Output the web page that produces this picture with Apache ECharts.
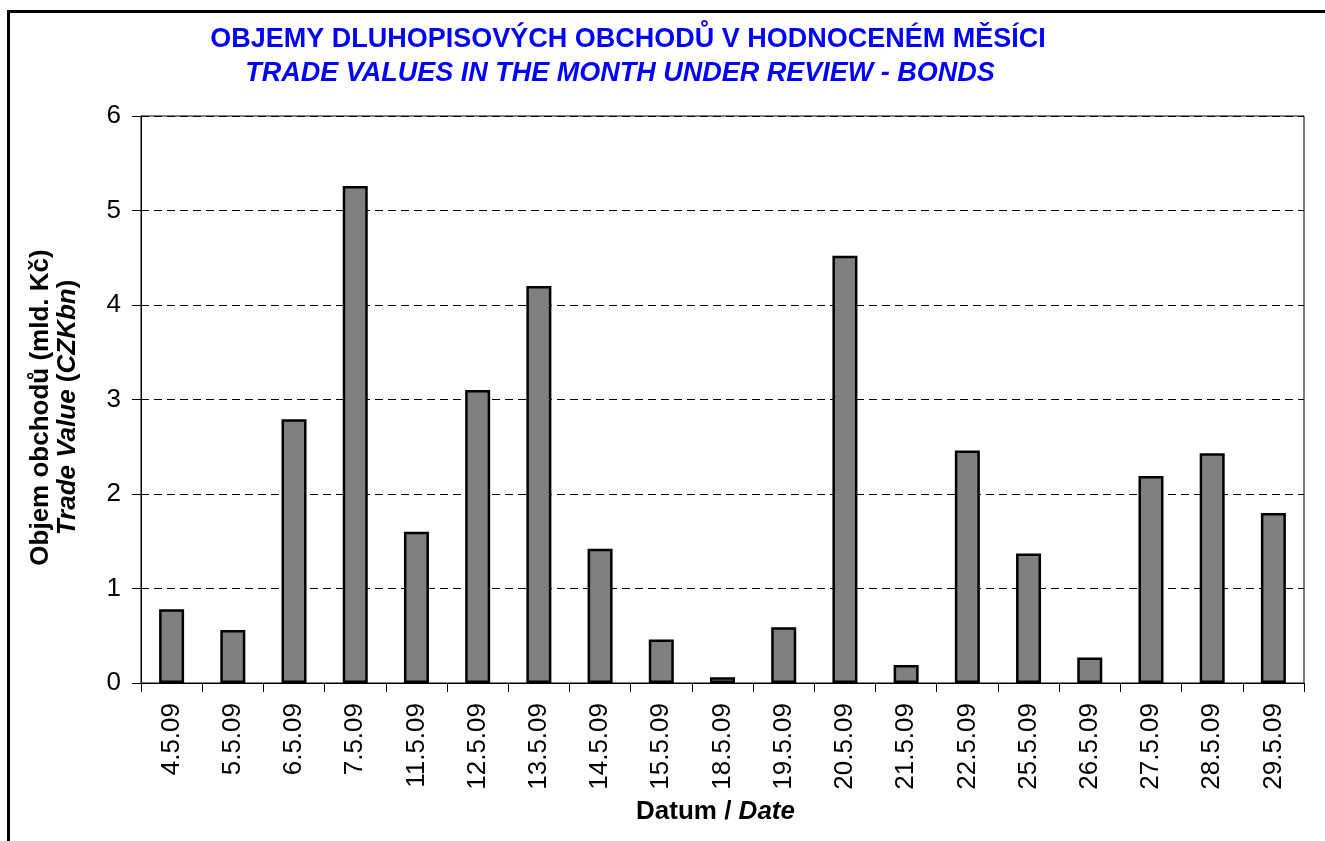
<!DOCTYPE html>
<html>
<head>
<meta charset="utf-8">
<script src="https://cdn.jsdelivr.net/npm/echarts@6/dist/echarts.min.js"></script>
<style>
html,body{margin:0;padding:0;background:#fff;}
#chart{width:1325px;height:841px;}
</style>
</head>
<body>
<div id="chart"></div>
<script>
const titleLine1 = 'OBJEMY DLUHOPISOVÝCH OBCHODŮ V HODNOCENÉM MĚSÍCI';
const titleLine2 = 'TRADE VALUES IN THE MONTH UNDER REVIEW - BONDS';
const categories = ['4.5.09','5.5.09','6.5.09','7.5.09','11.5.09','12.5.09','13.5.09','14.5.09','15.5.09','18.5.09','19.5.09','20.5.09','21.5.09','22.5.09','25.5.09','26.5.09','27.5.09','28.5.09','29.5.09'];
const values = [0.78,0.56,2.79,5.26,1.60,3.10,4.20,1.42,0.46,0.06,0.59,4.52,0.19,2.46,1.37,0.27,2.19,2.43,1.80];
const yTicks = [0,1,2,3,4,5,6];

const chart = echarts.init(document.getElementById('chart'));
const font = '"Liberation Sans", Arial, sans-serif';
chart.setOption({
  backgroundColor: '#fff',
  animation: false,
  graphic: [
    {type:'rect', shape:{x:8.5,y:11.5,width:1330,height:840}, style:{fill:'none',stroke:'#000',lineWidth:3}, z:100},
    {type:'text', style:{text:titleLine1, x:628, y:40, align:'center', verticalAlign:'middle', fill:'#0000ff', font:'bold 27px ' + font}},
    {type:'text', style:{text:titleLine2, x:620, y:74, align:'center', verticalAlign:'middle', fill:'#0000ff', font:'italic bold 27px ' + font}}
  ],
  grid: {left:141, right:21, top:116, bottom:158, show:true, borderColor:'#000', borderWidth:1, backgroundColor:'#fff'},
  xAxis: {
    type:'category', data:categories, boundaryGap:true,
    axisLine:{lineStyle:{color:'#000',width:1}},
    axisTick:{show:true, length:9, alignWithLabel:false, lineStyle:{color:'#000'}},
    axisLabel:{rotate:90, fontSize:26, color:'#000', fontFamily:font, margin:20},
    name:'{b|Datum / }{bi|Date}', nameLocation:'middle', nameGap:116,
    nameTextStyle:{padding:[0,14,0,0], rich:{b:{fontWeight:'bold',fontSize:26,fontFamily:font,color:'#000'},bi:{fontWeight:'bold',fontStyle:'italic',fontSize:26,fontFamily:font,color:'#000'}}}
  },
  yAxis: {
    type:'value', min:0, max:6, interval:1,
    axisLine:{show:true, lineStyle:{color:'#000'}},
    axisTick:{show:true, length:9, lineStyle:{color:'#000'}},
    axisLabel:{fontSize:26, color:'#000', fontFamily:font, margin:20, formatter:v=>yTicks.includes(v)?String(v):''},
    splitLine:{show:true, lineStyle:{color:'#000', type:[8,5], width:1}},
    name:'{b|Objem obchodů (mld. Kč)}\n{bi|Trade Value}{b| (}{bi|CZKbn}{b|)}', nameLocation:'middle', nameGap:60, nameRotate:90,
    nameTextStyle:{lineHeight:27, padding:[0,16,0,0], rich:{b:{fontWeight:'bold',fontSize:26,fontFamily:font,color:'#000',lineHeight:27},bi:{fontWeight:'bold',fontStyle:'italic',fontSize:26,fontFamily:font,color:'#000',lineHeight:27}}}
  },
  series: [{
    type:'bar', data:values, barWidth:25,
    itemStyle:{color:'#808080', borderColor:'#000', borderWidth:2.5}
  }]
});
</script>
</body>
</html>
